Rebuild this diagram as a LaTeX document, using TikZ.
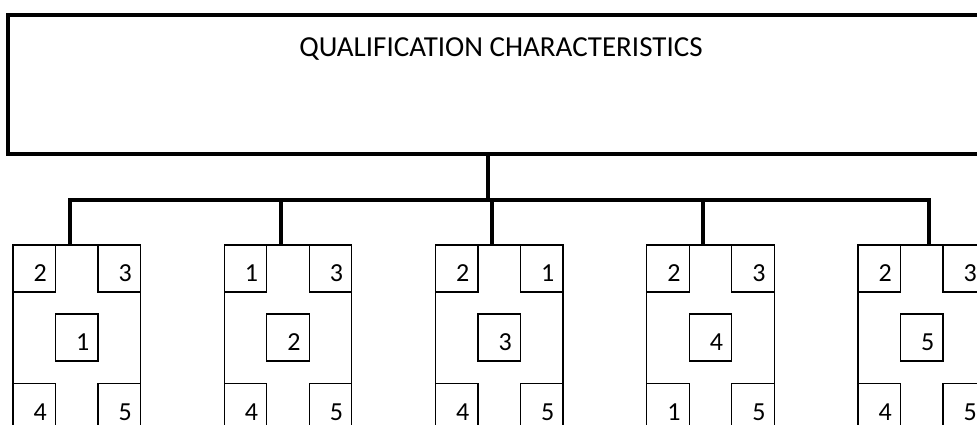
\documentclass[tikz,border=0pt]{standalone}
\usepackage{fontspec}
\setmainfont{Carlito}
\newcommand\digitlbl[1]{\hspace*{12pt}\raisebox{-5pt}[\height][0pt]{#1}}
\begin{document}
\begin{tikzpicture}[x=1pt,y={(0pt,-1pt)},
  mainbox/.style={draw, line width=4pt, outer sep=0pt, inner sep=0pt,
    minimum width=1000pt, minimum height=139.5pt, anchor=north west},
  titletext/.style={font=\fontsize{29pt}{34pt}\selectfont, inner sep=0pt},
  conn/.style={draw, line width=3.5pt, line join=miter},
  grp/.style={draw, line width=1.2pt, outer sep=0pt, inner sep=0pt,
    minimum width=127.5pt, minimum height=200pt, anchor=north west},
  cell/.style={draw, line width=1.2pt, outer sep=0pt, inner sep=0pt,
    minimum width=42.5pt, minimum height=47pt, fill=white,
    font=\fontsize{26pt}{30pt}\selectfont}
]
\useasboundingbox (0,0) rectangle (977,425);
\clip (0,0) rectangle (977,425);

\node[mainbox] (main) at (8,15) {};
\node[titletext, anchor=base] (title) at (501,57) {QUALIFICATION CHARACTERISTICS};

\coordinate (hub) at (488,200);
\draw[conn] (main.south -| hub) -- (hub);

\foreach \L/\D/\a/\b/\c/\d/\e [count=\i] in
  {13/70/2/3/1/4/5, 224.25/281/1/3/2/4/5, 435.5/492/2/1/3/4/5,
   646.75/703/2/3/4/1/5, 858/929/2/3/5/4/5}{
  \pgfmathsetmacro\R{\L+127.5}
  \pgfmathsetmacro\M{\L+63.75}
  \node[grp] (g\i) at (\L,245) {};
  \node[cell, anchor=north west] (g\i tl) at (g\i.north west) {\digitlbl{\a}};
  \node[cell, anchor=north east] (g\i tr) at (g\i.north east) {\digitlbl{\b}};
  \node[cell, anchor=north] (g\i c) at (\M,314) {\digitlbl{\c}};
  \node[cell, anchor=north west] (g\i bl) at (\L,383.5) {\digitlbl{\d}};
  \node[cell, anchor=north east] (g\i br) at (\R,383.5) {\digitlbl{\e}};
  \coordinate (d\i) at (\D,200);
}

\draw[conn] (g1.north -| d1) -- (d1) -- (d5) -- (g5.north -| d5);
\foreach \i in {2,3,4}{
  \draw[conn] (d\i) -- (g\i.north -| d\i);
}
\end{tikzpicture}
\end{document}
